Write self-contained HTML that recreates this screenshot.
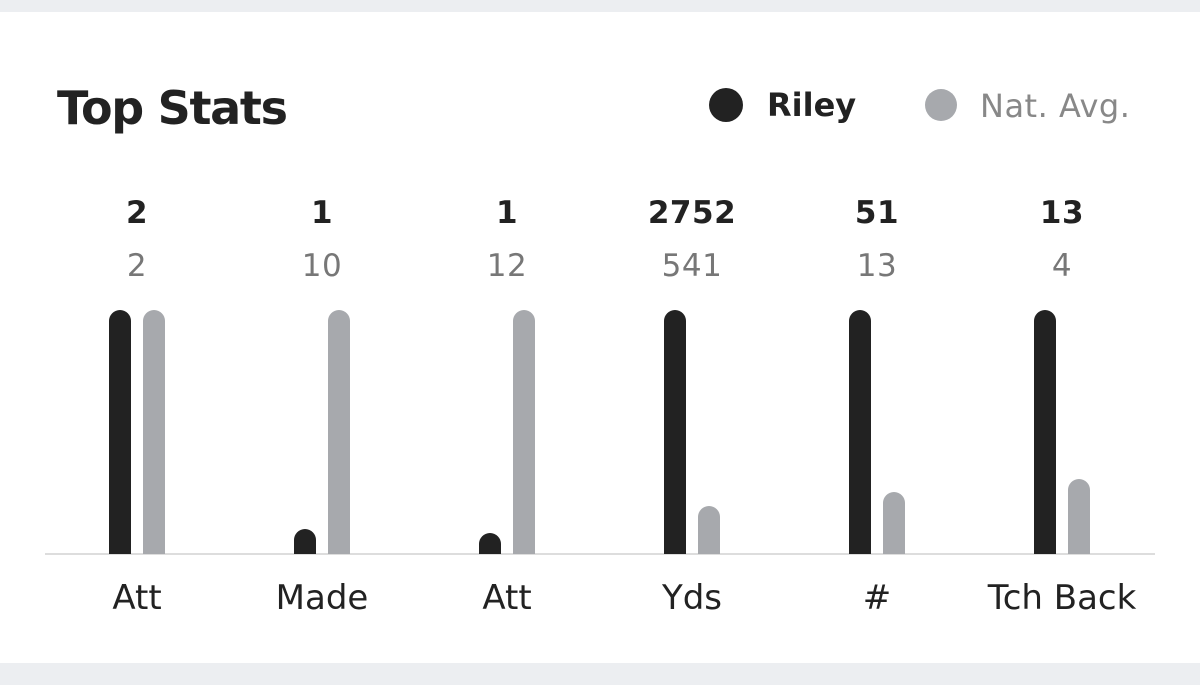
<!DOCTYPE html>
<html><head><style>
body{margin:0;width:1200px;height:685px;background:#fff;position:relative;overflow:hidden;font-family:"DejaVu Sans","Liberation Sans",sans-serif;}
.t{position:absolute;white-space:nowrap;}
.b{position:absolute;width:22px;border-radius:11px 11px 0 0;}
</style></head><body>
<div style="position:absolute;left:0;top:0;width:1200px;height:12px;background:#eceef1"></div>
<div style="position:absolute;left:0;top:663px;width:1200px;height:22px;background:#eceef1"></div>
<div class="t" style="left:57px;top:81px;font-size:46px;font-weight:bold;color:#222;letter-spacing:-1.3px">Top Stats</div>
<div style="position:absolute;left:709px;top:88px;width:34px;height:34px;border-radius:50%;background:#222"></div>
<div class="t" style="left:767px;top:86px;font-size:32px;font-weight:bold;color:#222">Riley</div>
<div style="position:absolute;left:925px;top:89px;width:32px;height:32px;border-radius:50%;background:#a7a9ad"></div>
<div class="t" style="left:980px;top:87px;font-size:32px;color:#888;letter-spacing:0.5px">Nat. Avg.</div>
<div style="position:absolute;left:45px;top:553px;width:1110px;height:2px;background:#ddd"></div>
<div id="g"></div>
<script>
var d=[["2","2","Att",310,310],["1","10","Made",529,310],["1","12","Att",533,310],["2752","541","Yds",310,506],["51","13","#",310,492],["13","4","Tch Back",310,479]];
var h="";
d.forEach(function(r,i){var c=137+185*i;
h+='<div class="t" style="left:'+(c-150)+'px;width:300px;text-align:center;top:195px;font-size:31px;font-weight:bold;color:#222;letter-spacing:0.5px">'+r[0]+'</div>';
h+='<div class="t" style="left:'+(c-150)+'px;width:300px;text-align:center;top:248px;font-size:31px;color:#777;letter-spacing:0.5px">'+r[1]+'</div>';
h+='<div class="t" style="left:'+(c-150)+'px;width:300px;text-align:center;top:578px;font-size:34px;color:#222">'+r[2]+'</div>';
h+='<div class="b" style="left:'+(c-28)+'px;top:'+r[3]+'px;height:'+(554-r[3])+'px;background:#222"></div>';
h+='<div class="b" style="left:'+(c+6)+'px;top:'+r[4]+'px;height:'+(554-r[4])+'px;background:#a7a9ad"></div>';});
document.getElementById("g").innerHTML=h;
</script>
</body></html>
